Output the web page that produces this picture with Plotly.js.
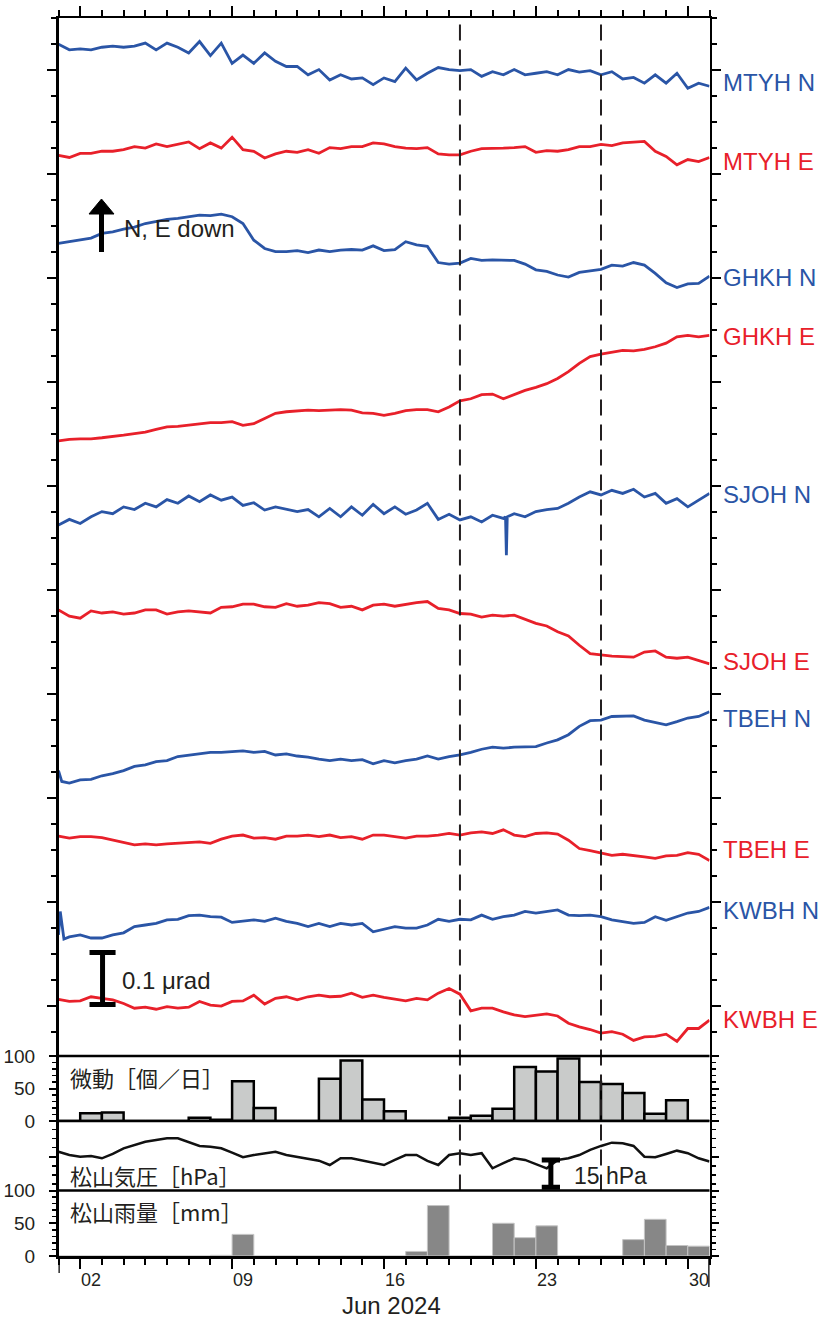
<!DOCTYPE html>
<html>
<head>
<meta charset="utf-8">
<script src="https://cdn.plot.ly/plotly-3.0.1.min.js"></script>
<style>html,body{margin:0;padding:0;background:#fff}#chart{width:821px;height:1319px}</style>
</head>
<body>
<div id="chart"></div>
<script>
// ---------------- DATA ----------------
// sample times: days since 2024-06-01 00:00
const DAYS = [0,0.5,1,1.5,2,2.5,3,3.5,4,4.5,5,5.5,6,6.5,7,7.5,8,8.5,9,9.5,10,
  10.5,11,11.5,12,12.5,13,13.5,14,14.5,15,15.5,16,16.5,17,17.5,18,18.5,19,19.5,20,
  20.5,21,21.5,22,22.5,23,23.5,24,24.5,25,25.5,26,26.5,27,27.5,28,28.5,29,29.5,30];

const STATIONS = ['MTYH N','MTYH E','GHKH N','GHKH E','SJOH N','SJOH E','TBEH N','TBEH E','KWBH N','KWBH E'];

// tilt change (μrad) relative to start
const MTYH_N = [0,-0.011,-0.009,-0.011,-0.006,-0.004,-0.006,-0.004,0.002,-0.011,0.002,-0.006,-0.017,0.005,-0.022,0.002,-0.037,-0.021,-0.037,-0.017,-0.033,
  -0.043,-0.043,-0.059,-0.049,-0.069,-0.059,-0.067,-0.065,-0.078,-0.065,-0.072,-0.046,-0.069,-0.056,-0.045,-0.049,-0.051,-0.049,-0.062,-0.053,
  -0.059,-0.049,-0.059,-0.056,-0.053,-0.059,-0.049,-0.054,-0.051,-0.059,-0.053,-0.067,-0.064,-0.075,-0.059,-0.075,-0.056,-0.085,-0.075,-0.081];
const MTYH_E = [0,-0.004,0.004,0.004,0.008,0.008,0.011,0.017,0.014,0.022,0.017,0.021,0.026,0.013,0.024,0.014,0.035,0.011,0.008,-0.005,0.003,
  0.008,0.006,0.011,0.004,0.015,0.013,0.017,0.017,0.024,0.022,0.017,0.014,0.013,0.015,0.003,0.001,0.001,0.008,0.013,0.013,
  0.014,0.015,0.017,0.006,0.009,0.008,0.011,0.017,0.017,0.021,0.019,0.024,0.026,0.027,0.008,-0.002,-0.018,-0.008,-0.012,-0.004];
const GHKH_N = [0,0.003,0.006,0.010,0.019,0.022,0.027,0.031,0.038,0.042,0.046,0.048,0.051,0.054,0.053,0.056,0.051,0.038,0.006,-0.010,-0.016,
  -0.016,-0.014,-0.018,-0.013,-0.016,-0.013,-0.012,-0.013,-0.005,-0.014,-0.012,0.003,-0.003,-0.006,-0.037,-0.040,-0.038,-0.029,-0.033,-0.032,
  -0.033,-0.033,-0.040,-0.051,-0.054,-0.061,-0.065,-0.056,-0.053,-0.050,-0.042,-0.044,-0.037,-0.042,-0.058,-0.076,-0.085,-0.078,-0.077,-0.063];
const GHKH_E = [0,0.003,0.004,0.004,0.006,0.008,0.011,0.014,0.017,0.022,0.027,0.028,0.030,0.032,0.035,0.035,0.037,0.030,0.033,0.043,0.053,
  0.056,0.058,0.059,0.058,0.059,0.060,0.059,0.054,0.053,0.049,0.053,0.058,0.060,0.060,0.056,0.065,0.077,0.081,0.089,0.090,
  0.081,0.089,0.097,0.103,0.110,0.120,0.133,0.149,0.162,0.167,0.171,0.174,0.173,0.176,0.181,0.188,0.200,0.203,0.200,0.203];
const SJOH_N = [0,0.011,0.003,0.016,0.026,0.022,0.035,0.030,0.042,0.035,0.049,0.042,0.056,0.045,0.058,0.048,0.054,0.038,0.043,0.029,0.035,
  0.030,0.026,0.030,0.016,0.032,0.016,0.035,0.019,0.040,0.022,0.035,0.021,0.029,0.042,0.011,0.021,0.010,0.016,0.006,0.019,
  0.013,0.022,0.016,0.026,0.030,0.032,0.042,0.054,0.064,0.058,0.067,0.061,0.069,0.054,0.061,0.042,0.051,0.035,0.048,0.061];
const SJOH_N_SPIKE_DAYS = [20.60,20.64,20.68];
const SJOH_N_SPIKE = [0.016,-0.058,0.016];
const SJOH_E = [0.010,-0.002,-0.006,0.008,0.004,0.006,0.002,0.004,0.010,0.010,0.002,0.006,0.008,0.006,0.004,0.015,0.016,0.021,0.021,0.016,0.015,
  0.022,0.017,0.019,0.024,0.022,0.015,0.017,0.010,0.019,0.021,0.017,0.021,0.024,0.026,0.013,0.010,0.003,0.002,-0.004,0,
  -0.002,0,-0.008,-0.016,-0.021,-0.032,-0.040,-0.058,-0.074,-0.077,-0.079,-0.080,-0.081,-0.071,-0.069,-0.081,-0.083,-0.081,-0.088,-0.094];
const TBEH_N = [0,-0.024,-0.018,-0.017,-0.010,-0.006,0,0.008,0.011,0.017,0.019,0.027,0.030,0.033,0.035,0.035,0.037,0.038,0.035,0.037,0.030,
  0.032,0.028,0.026,0.022,0.019,0.022,0.019,0.021,0.013,0.019,0.015,0.019,0.022,0.028,0.022,0.027,0.030,0.035,0.041,0.045,
  0.043,0.045,0.046,0.046,0.053,0.059,0.069,0.085,0.096,0.097,0.104,0.104,0.105,0.097,0.092,0.088,0.094,0.101,0.104,0.113];
const TBEH_N_EXTRA_DAYS = [0.15];
const TBEH_N_EXTRA = [-0.021];
const TBEH_E = [0,-0.004,-0.001,-0.001,-0.003,-0.008,-0.013,-0.017,-0.015,-0.017,-0.015,-0.014,-0.013,-0.011,-0.014,-0.006,0,0.002,-0.004,-0.003,-0.006,
  0,0,0.002,-0.001,0.002,-0.003,-0.001,-0.006,0.002,0.002,-0.001,-0.004,0,0,0.002,0.005,0.002,0.006,0.008,0.005,
  0.012,0.002,-0.001,0.005,0.006,0.004,-0.008,-0.024,-0.028,-0.032,-0.037,-0.035,-0.037,-0.040,-0.043,-0.038,-0.037,-0.032,-0.035,-0.047];
const KWBH_N = [0,-0.004,0,-0.006,-0.006,0,0.004,0.016,0.019,0.022,0.029,0.030,0.037,0.038,0.035,0.034,0.024,0.026,0.029,0.026,0.032,
  0.026,0.022,0.016,0.022,0.016,0.022,0.019,0.022,0.006,0.011,0.016,0.013,0.013,0.019,0.030,0.026,0.030,0.029,0.038,0.030,
  0.035,0.038,0.045,0.042,0.045,0.048,0.038,0.037,0.038,0.035,0.029,0.026,0.022,0.024,0.035,0.028,0.035,0.042,0.045,0.053];
const KWBH_N_SPIKE_DAYS = [0.08,0.25];
const KWBH_N_SPIKE = [0.045,-0.008];
const KWBH_E = [0,-0.004,-0.003,0.005,0.002,-0.001,-0.008,-0.017,-0.015,-0.019,-0.014,-0.017,-0.015,-0.004,-0.011,-0.013,-0.004,-0.003,0.008,-0.009,0.002,
  0.005,-0.001,0.005,0.008,0.005,0.006,0.012,0.004,0.008,0.004,0,-0.003,0.002,-0.001,0.012,0.021,0.010,-0.022,-0.017,-0.017,
  -0.024,-0.030,-0.033,-0.030,-0.028,-0.032,-0.046,-0.053,-0.058,-0.065,-0.062,-0.067,-0.079,-0.072,-0.071,-0.067,-0.081,-0.056,-0.056,-0.040];

// Matsuyama air pressure (hPa)
const PRESSURE = [1012.7,1010.9,1010.0,1010.4,1009.1,1011.5,1014.6,1016.4,1018.2,1019.2,1020.1,1020.1,1018.2,1015.9,1015.5,1014.6,1012.2,1009.7,1010.9,1011.9,1012.7,
  1010.9,1010.0,1009.1,1007.8,1005.4,1009.1,1009.1,1007.8,1006.4,1005.4,1008.2,1010.9,1010.9,1007.7,1005.4,1010.9,1011.9,1010.9,1011.9,1003.6,
  1006.4,1009.1,1008.2,1006.0,1003.6,1008.2,1009.1,1010.9,1013.7,1015.9,1017.7,1017.4,1015.9,1010.0,1009.7,1011.5,1013.3,1011.9,1009.1,1007.3];

// daily values, June 1..30
const DAY_OF_MONTH = [1,2,3,4,5,6,7,8,9,10,11,12,13,14,15,16,17,18,19,20,21,22,23,24,25,26,27,28,29,30];
const TREMOR = [0,12,13,0,0,0,5,2,61,20,0,0,65,93,33,15,0,0,5,8,19,83,76,96,60,57,43,11,32,0];
const RAIN = [0,0,0,0,0,0,0,1,33,0,0,0,0,0,0,0,7,77,0,0,50,28,46,0,0,0,25,56,16,15];

const X_TICK_LABELS = ['02','09','16','23','30'];
const X_TICK_DAYS = [2,9,16,23,30];
const EVENT_DAYS = [18.5, 25.0];

// ---------------- LAYOUT HELPERS ----------------
const W = 821, H = 1319;
const px = x => x / W;
const py = y => 1 - y / H;
const BASE = Date.UTC(2024, 5, 1);
function dayToDate(t) {
  return new Date(BASE + t * 86400000).toISOString().slice(0, 19).replace('T', ' ');
}
const BLUE = '#2a55a6', RED = '#e8202a', INK = '#231f20';
const LATIN = 'Liberation Sans, Arial, Helvetica, sans-serif';
const CJK = '"Noto Sans CJK JP", "Noto Sans CJK SC", sans-serif';

const SERIES = [MTYH_N, MTYH_E, GHKH_N, GHKH_E, SJOH_N, SJOH_E, TBEH_N, TBEH_E, KWBH_N, KWBH_E];
const EXTRA_DAYS = [null, null, null, null, SJOH_N_SPIKE_DAYS, null, TBEH_N_EXTRA_DAYS, null, KWBH_N_SPIKE_DAYS, null];
const EXTRA_VALS = [null, null, null, null, SJOH_N_SPIKE, null, TBEH_N_EXTRA, null, KWBH_N_SPIKE, null];
// stacking offsets of each trace on the main panel (μrad)
const STACK_OFFSET = [1.944, 1.730, 1.561, 1.181, 1.019, 0.846, 0.547, 0.421, 0.231, 0.107];
const LABEL_Y_PX = [82, 161, 278, 336, 494, 661, 718, 849, 910, 1019];

const traces = [];
SERIES.forEach((vals, i) => {
  const pts = DAYS.map((d, k) => [d, vals[k]]);
  if (EXTRA_DAYS[i]) EXTRA_DAYS[i].forEach((d, k) => pts.push([d, EXTRA_VALS[i][k]]));
  pts.sort((a, b) => a[0] - b[0]);
  traces.push({
    type: 'scatter', mode: 'lines',
    x: pts.map(p => dayToDate(p[0])),
    y: pts.map(p => p[1] + STACK_OFFSET[i]),
    xaxis: 'x2', yaxis: 'y',
    line: {color: i % 2 === 0 ? BLUE : RED, width: 2.8},
    hoverinfo: 'skip', name: STATIONS[i]
  });
});

traces.push({
  type: 'bar', x: DAY_OF_MONTH.map(d => dayToDate(d - 0.5)), y: TREMOR,
  width: 86400000, xaxis: 'x', yaxis: 'y2',
  marker: {color: '#c9cbca', line: {color: '#000', width: 2.5}}, hoverinfo: 'skip'
});
traces.push({
  type: 'scatter', mode: 'lines', x: DAYS.map(dayToDate), y: PRESSURE,
  xaxis: 'x', yaxis: 'y3', line: {color: '#111', width: 2.5}, hoverinfo: 'skip'
});
traces.push({
  type: 'bar', x: DAY_OF_MONTH.map(d => dayToDate(d - 0.5)), y: RAIN,
  width: 86400000, xaxis: 'x', yaxis: 'y4',
  marker: {color: '#878787', line: {color: '#c4c4c4', width: 1}}, hoverinfo: 'skip'
});

const XL = 58.5, XR = 709.5;
const MAIN_TOP = 18, MAIN_BOT = 1056, TRE_BOT = 1121, PRS_BOT = 1190.5, RAIN_BOT = 1256;
const xRange = [dayToDate(0), dayToDate(30)];
const xTickVals = X_TICK_DAYS.map(d => dayToDate(d - 1));

const baseX = {
  type: 'date', domain: [px(XL), px(XR)], range: xRange,
  showline: true, linecolor: '#000', linewidth: 2.5,
  ticks: 'outside', ticklen: 10, tickwidth: 2, tickcolor: '#000',
  tickmode: 'array', tickvals: xTickVals, showticklabels: false,
  showgrid: false, zeroline: false,
  minor: {ticks: 'outside', ticklen: 6, tickwidth: 2, tickcolor: '#000',
          tickmode: 'linear', tick0: dayToDate(0), dtick: 86400000, showgrid: false}
};
const axisY = (top, bot, extra) => Object.assign({
  domain: [py(bot), py(top)], anchor: 'x',
  showline: true, linecolor: '#000', linewidth: 2.5, mirror: 'ticks',
  ticks: 'outside', tickwidth: 2, tickcolor: '#000',
  showgrid: false, zeroline: false, fixedrange: true
}, extra);

const layout = {
  width: W, height: H, margin: {l: 0, r: 0, t: 0, b: 0},
  paper_bgcolor: '#fff', plot_bgcolor: 'rgba(0,0,0,0)', showlegend: false,
  font: {family: LATIN, color: INK},
  xaxis: Object.assign({}, baseX, {anchor: 'y4', side: 'bottom'}),
  xaxis2: Object.assign({}, baseX, {anchor: 'y', side: 'top', matches: 'x'}),
  yaxis: axisY(MAIN_TOP, MAIN_BOT, {
    anchor: 'x2', range: [(1055 - MAIN_BOT) / 520, (1055 - MAIN_TOP) / 520],
    tickmode: 'linear', tick0: 0.0942, dtick: 0.2, ticklen: 9, showticklabels: false,
    minor: {ticks: 'outside', ticklen: 5, tickwidth: 2, tickcolor: '#000', tickmode: 'linear', tick0: 0.0942, dtick: 0.05}
  }),
  yaxis2: axisY(MAIN_BOT, TRE_BOT, {
    range: [0, 100], tickmode: 'array', tickvals: [0, 50, 100], ticktext: ['0', '50', '100'], ticklen: 7,
    tickfont: {size: 19, color: INK, family: LATIN}, ticklabelstandoff: 10,
    minor: {ticks: 'outside', ticklen: 4, tickwidth: 1.5, tickcolor: '#000', tickmode: 'linear', tick0: 0, dtick: 10}
  }),
  yaxis3: axisY(TRE_BOT, PRS_BOT, {
    range: [991.4, 1029.6], tickmode: 'array', tickvals: [1010], ticklen: 7, showticklabels: false,
    minor: {ticks: 'outside', ticklen: 4, tickwidth: 1.5, tickcolor: '#000', tickmode: 'linear', tick0: 1010, dtick: 5}
  }),
  yaxis4: axisY(PRS_BOT, RAIN_BOT, {
    range: [0, 100], tickmode: 'array', tickvals: [0, 50, 100], ticktext: ['0', '50', '100'], ticklen: 7,
    tickfont: {size: 19, color: INK, family: LATIN}, ticklabelstandoff: 10,
    minor: {ticks: 'outside', ticklen: 4, tickwidth: 1.5, tickcolor: '#000', tickmode: 'linear', tick0: 0, dtick: 10}
  }),
  shapes: [],
  annotations: []
};

// event lines
EVENT_DAYS.forEach(d => layout.shapes.push({
  type: 'line', xref: 'x', yref: 'paper', x0: dayToDate(d), x1: dayToDate(d),
  y0: py(PRS_BOT), y1: py(MAIN_TOP), line: {color: INK, width: 2, dash: '16px,9px'}
}));
// panel dividers
[MAIN_BOT, TRE_BOT, PRS_BOT].forEach(p => layout.shapes.push({
  type: 'line', xref: 'paper', yref: 'paper', x0: px(XL), x1: px(XR), y0: py(p), y1: py(p),
  line: {color: '#000', width: 2.5}
}));
// month boundary long ticks
layout.shapes.push({type: 'line', xref: 'x', yref: 'paper', x0: dayToDate(0), x1: dayToDate(0), y0: py(RAIN_BOT), y1: py(1273), line: {color: '#000', width: 2.5}});
layout.shapes.push({type: 'line', xref: 'x', yref: 'paper', x0: dayToDate(30), x1: dayToDate(30), y0: py(RAIN_BOT), y1: py(1287), line: {color: '#000', width: 2.5}});
// direction arrow
layout.shapes.push({type: 'line', xref: 'paper', yref: 'paper', x0: px(101.5), x1: px(101.5), y0: py(252), y1: py(212), line: {color: '#000', width: 5}});
layout.shapes.push({type: 'path', xref: 'paper', yref: 'paper',
  path: `M ${px(89)},${py(214)} L ${px(114)},${py(214)} L ${px(101.5)},${py(199)} Z`,
  fillcolor: '#000', line: {color: '#000', width: 1}});
// 0.1 μrad scale bar (data units of main axis)
const SB_T = 2.03, SB_Y0 = 0.097, SB_H = 0.1, SB_CAP = 0.6;
layout.shapes.push({type: 'line', xref: 'x2', yref: 'y', x0: dayToDate(SB_T), x1: dayToDate(SB_T), y0: SB_Y0, y1: SB_Y0 + SB_H, line: {color: '#000', width: 5}});
[SB_Y0, SB_Y0 + SB_H].forEach(v => layout.shapes.push({type: 'line', xref: 'x2', yref: 'y',
  x0: dayToDate(SB_T - SB_CAP), x1: dayToDate(SB_T + SB_CAP), y0: v, y1: v, line: {color: '#000', width: 5}}));
// 15 hPa scale bar (pressure units)
const PB_T = 22.69, PB_TOP = 1008.2, PB_H = 15, PB_CAP = 0.42;
layout.shapes.push({type: 'line', xref: 'x', yref: 'y3', x0: dayToDate(PB_T), x1: dayToDate(PB_T), y0: PB_TOP - PB_H, y1: PB_TOP, line: {color: '#000', width: 5}});
[PB_TOP - PB_H, PB_TOP].forEach(v => layout.shapes.push({type: 'line', xref: 'x', yref: 'y3',
  x0: dayToDate(PB_T - PB_CAP), x1: dayToDate(PB_T + PB_CAP), y0: v, y1: v, line: {color: '#000', width: 5}}));

// x tick labels centred on their day
X_TICK_DAYS.forEach((d, i) => layout.annotations.push({
  xref: 'x', yref: 'paper', x: dayToDate(d - 0.5), y: py(1279.5), xanchor: 'center', yanchor: 'middle',
  height: 16, valign: 'middle',
  text: X_TICK_LABELS[i], showarrow: false, font: {size: 18, color: INK, family: LATIN}
}));
// station labels
STATIONS.forEach((s, i) => layout.annotations.push({
  xref: 'paper', yref: 'paper', x: px(721), y: py(LABEL_Y_PX[i]), xanchor: 'left', yanchor: 'middle',
  text: s, showarrow: false, font: {size: 24, color: i % 2 === 0 ? BLUE : RED, family: LATIN}
}));
const txt = (t, x, y, size, family, anchor, h) => layout.annotations.push(Object.assign({
  xref: 'paper', yref: 'paper', x: px(x), y: py(y), xanchor: anchor || 'left', yanchor: 'middle',
  text: t, showarrow: false, font: {size: size, color: INK, family: family || LATIN}
}, h ? {height: h, valign: 'middle'} : {}));
txt('N, E down', 122, 228, 24);
txt('0.1 μrad', 120, 980, 24);
txt('15 hPa', 572, 1176, 23);
txt('微動［個／日］', 68, 1077, 22, CJK);
txt('松山気圧［hPa］', 68, 1175, 22, CJK);
txt('松山雨量［mm］', 68, 1211, 22, CJK);
txt('Jun 2024', 391, 1304.5, 24, LATIN, 'center', 22);

Plotly.newPlot('chart', traces, layout, {staticPlot: true, displayModeBar: false});
</script>
</body>
</html>
